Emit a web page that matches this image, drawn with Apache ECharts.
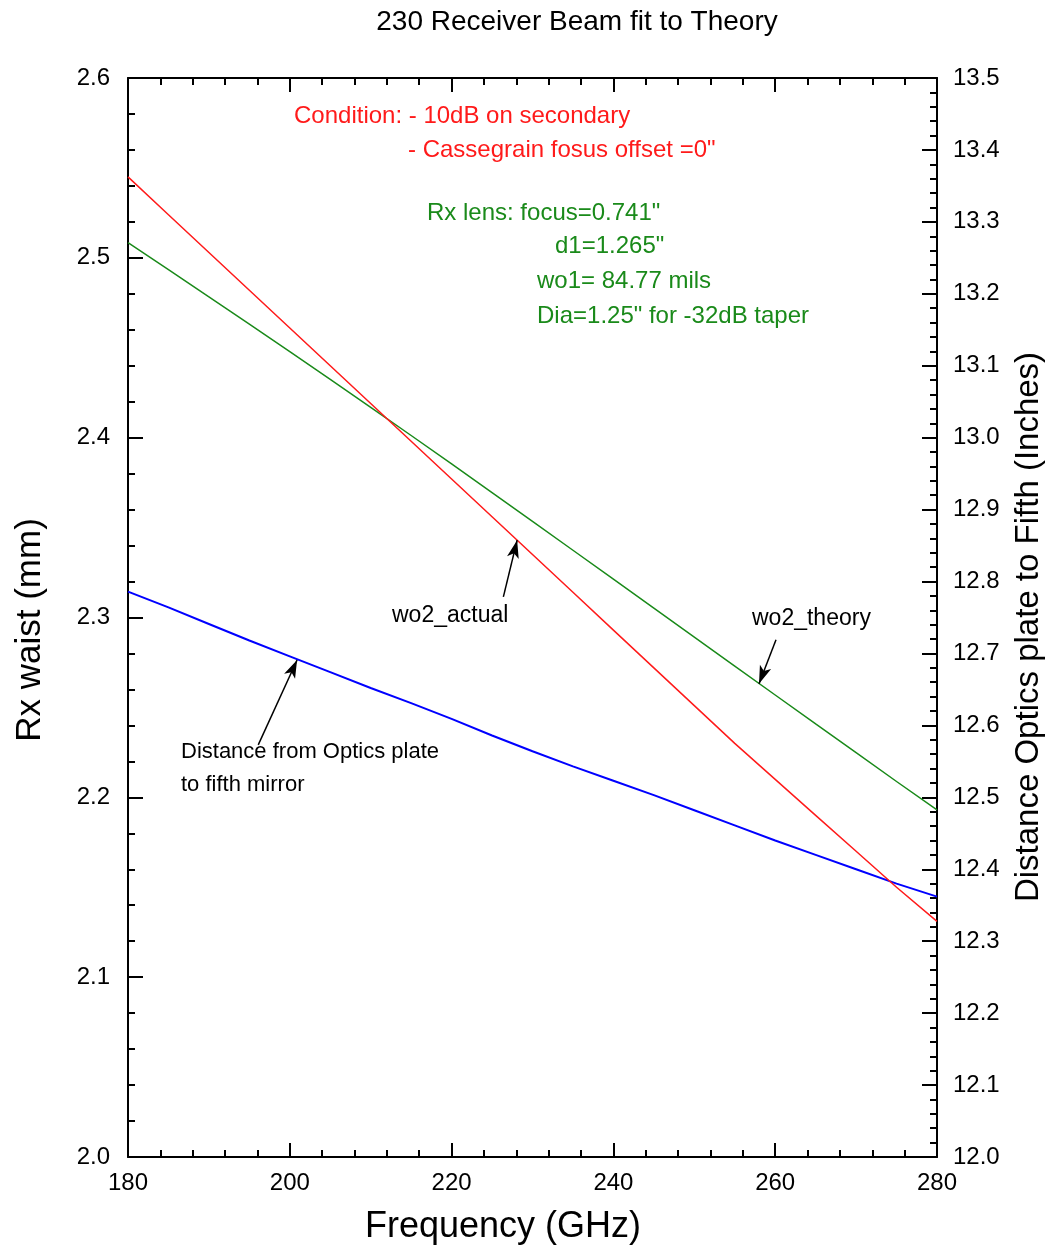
<!DOCTYPE html>
<html>
<head>
<meta charset="utf-8">
<script src="https://cdn.jsdelivr.net/npm/echarts@6/dist/echarts.min.js"></script>
<style>
  html, body { margin: 0; padding: 0; background: #fff; }
  #chart { width: 1047px; height: 1249px; }
</style>
</head>
<body>
<div id="chart"></div>
<script>
// Frequency samples (GHz)
const freq = [180, 185, 190, 195, 200, 205, 210, 215, 220, 225, 230,
              235, 240, 245, 250, 255, 260, 265, 270, 275, 280];

// Measured receiver waist, mm (left axis)
const wo2Actual = [2.545, 2.524, 2.503, 2.482, 2.461, 2.440, 2.419, 2.398, 2.377, 2.356, 2.335,
                   2.314, 2.293, 2.272, 2.251, 2.230, 2.210, 2.190, 2.170, 2.150, 2.131];

// Theoretical receiver waist, mm (left axis)
const wo2Theory = [2.5085, 2.4934, 2.4783, 2.4631, 2.4478, 2.4324, 2.4169, 2.4012, 2.3854, 2.3695, 2.3535,
                   2.3374, 2.3213, 2.3052, 2.2891, 2.2730, 2.2569, 2.2408, 2.2248, 2.2088, 2.1930];

// Distance from optics plate to fifth mirror, inches (right axis)
const plateDistance = [12.786, 12.764, 12.741, 12.718, 12.696, 12.674, 12.652, 12.631, 12.609, 12.586, 12.564,
                       12.543, 12.523, 12.503, 12.482, 12.461, 12.440, 12.420, 12.400, 12.380, 12.362];

const chartTitle = '230 Receiver Beam fit to Theory';
const xName = 'Frequency (GHz)';
const yLeftName = 'Rx waist (mm)';
const yRightName = 'Distance Optics plate to Fifth (Inches)';

const conditionNotes = ['Condition: - 10dB on secondary', '- Cassegrain fosus offset =0"'];
const lensNotes = ['Rx lens: focus=0.741"', 'd1=1.265"', 'wo1= 84.77 mils', 'Dia=1.25" for -32dB taper'];

const FONT = '"Liberation Sans", Arial, sans-serif';
const RED = '#ff1a1a';
const GREEN = '#1a8a1a';
const BLUE = '#0000ff';

function pairs(xs, ys) { return xs.map((x, i) => [x, ys[i]]); }

// Pointer from a label to a curve, given in data coordinates
function arrow(from, to) {
  return [
    { coord: from, symbol: 'none' },
    { coord: to, symbol: 'arrow', symbolSize: [9, 18] }
  ];
}

function pointerLine(from, to) {
  return {
    silent: true, animation: false, label: { show: false },
    lineStyle: { color: '#000', width: 1.5, type: 'solid' },
    data: [arrow(from, to)]
  };
}

const tickStyle = { color: '#000', width: 2 };

function xAxisDef(pos, showLabels) {
  return {
    type: 'value', min: 180, max: 280, interval: 20, position: pos,
    axisLine: { show: true, onZero: false, lineStyle: tickStyle },
    axisTick: { show: true, inside: true, length: 14, lineStyle: tickStyle },
    minorTick: { show: true, splitNumber: 5, length: 7, lineStyle: tickStyle },
    axisLabel: { show: showLabels, color: '#000', fontSize: 24, fontFamily: FONT, margin: 14 },
    splitLine: { show: false }
  };
}

function yAxisDef(pos, min, max, margin) {
  return {
    type: 'value', min: min, max: max, interval: 0.1, position: pos,
    axisLine: { show: true, onZero: false, lineStyle: tickStyle },
    axisTick: { show: true, inside: true, length: 15, lineStyle: tickStyle },
    minorTick: { show: true, splitNumber: 5, length: 7, lineStyle: tickStyle },
    axisLabel: { color: '#000', fontSize: 24, fontFamily: FONT, margin: margin,
                 formatter: v => v.toFixed(1) },
    splitLine: { show: false }
  };
}

function note(x, y, text, color, size) {
  return { type: 'text', x: x, y: y,
           style: { text: text, fill: color, font: size + 'px ' + FONT, verticalAlign: 'middle' } };
}

const chart = echarts.init(document.getElementById('chart'), null, { renderer: 'canvas' });

chart.setOption({
  animation: false,
  backgroundColor: '#fff',
  grid: { left: 128, right: 110, top: 78, bottom: 92, containLabel: false },
  xAxis: [xAxisDef('bottom', true), xAxisDef('top', false)],
  yAxis: [yAxisDef('left', 2.0, 2.6, 18), yAxisDef('right', 12.0, 13.5, 16)],
  series: [
    {
      name: 'wo2_actual', type: 'line', xAxisIndex: 0, yAxisIndex: 0,
      data: pairs(freq, wo2Actual), showSymbol: false, symbol: 'none',
      lineStyle: { color: RED, width: 1.5 }, z: 3,
      markLine: pointerLine([226.4, 2.3115], [228.1, 2.343])
    },
    {
      name: 'wo2_theory', type: 'line', xAxisIndex: 0, yAxisIndex: 0,
      data: pairs(freq, wo2Theory), showSymbol: false, symbol: 'none',
      lineStyle: { color: GREEN, width: 1.5 }, z: 2,
      markLine: pointerLine([260.1, 2.2876], [258.0, 2.2632])
    },
    {
      name: 'distance', type: 'line', xAxisIndex: 0, yAxisIndex: 1,
      data: pairs(freq, plateDistance), showSymbol: false, symbol: 'none',
      lineStyle: { color: BLUE, width: 2 }, z: 2,
      markLine: pointerLine([196.1, 12.573], [200.9, 12.691])
    }
  ],
  graphic: [
    { type: 'text', x: 577, y: 22,
      style: { text: chartTitle, fill: '#000', font: '28px ' + FONT, align: 'center', verticalAlign: 'middle' } },
    { type: 'text', x: 503, y: 1227,
      style: { text: xName, fill: '#000', font: '36px ' + FONT, align: 'center', verticalAlign: 'middle' } },
    { type: 'text', x: 30, y: 630, rotation: Math.PI / 2,
      style: { text: yLeftName, fill: '#000', font: '35px ' + FONT, align: 'center', verticalAlign: 'middle' } },
    { type: 'text', x: 1029, y: 627, rotation: Math.PI / 2,
      style: { text: yRightName, fill: '#000', font: '33px ' + FONT, align: 'center', verticalAlign: 'middle' } },

    note(294, 116, conditionNotes[0], RED, 24),
    note(408, 150, conditionNotes[1], RED, 24),

    note(427, 213, lensNotes[0], GREEN, 24),
    note(555, 246, lensNotes[1], GREEN, 24),
    note(537, 281, lensNotes[2], GREEN, 24),
    note(537, 316, lensNotes[3], GREEN, 24),

    note(392, 616, 'wo2_actual', '#000', 23),
    note(752, 619, 'wo2_theory', '#000', 23),
    note(181, 752, 'Distance from Optics plate', '#000', 22),
    note(181, 785, 'to fifth mirror', '#000', 22)
  ]
});
</script>
</body>
</html>
